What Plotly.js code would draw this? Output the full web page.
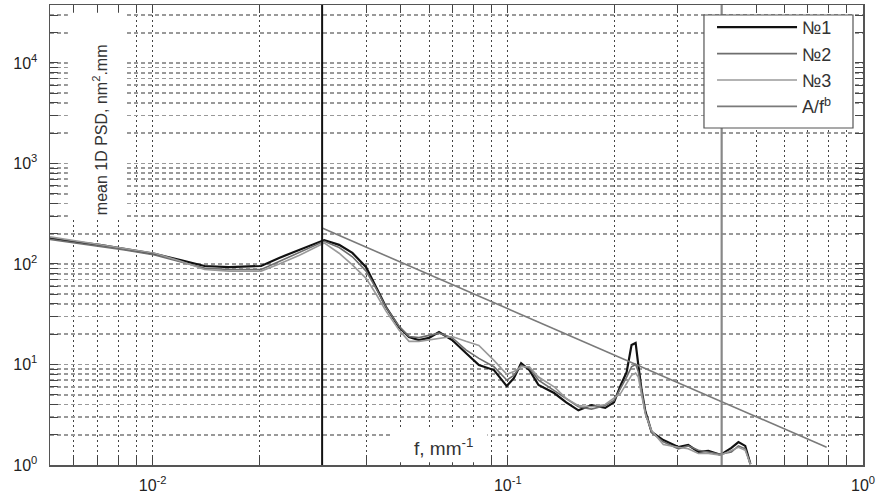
<!DOCTYPE html>
<html>
<head>
<meta charset="utf-8">
<script src="https://cdn.plot.ly/plotly-3.0.1.min.js"></script>
<style>html,body{margin:0;padding:0;background:#fff;}#chart{width:880px;height:496px;}</style>
</head>
<body>
<div id="chart"></div>
<script>
// ---- data ----
const freq = [0.00514, 0.00604, 0.0071, 0.00834, 0.01013, 0.0119, 0.014, 0.0164, 0.0202, 0.0227, 0.0259, 0.0304,
  0.0335, 0.0365, 0.0399, 0.0426, 0.0454, 0.0494, 0.0527, 0.0562, 0.06, 0.064, 0.0697, 0.0762, 0.0829, 0.0914,
  0.0993, 0.104, 0.109, 0.115, 0.122, 0.135, 0.146, 0.158, 0.172, 0.188, 0.199, 0.208, 0.216, 0.223, 0.229,
  0.233, 0.238, 0.244, 0.254, 0.274, 0.302, 0.322, 0.344, 0.367, 0.397, 0.426, 0.446, 0.466, 0.482];
const psd1 = [181, 166, 155, 141, 126, 110, 95.5, 93, 95.5, 115, 138, 173, 155, 129, 93, 59, 37.3, 23.6, 18.8, 17.5,
  18.4, 21, 17.5, 13, 9.9, 8.8, 6.1, 7.3, 10.3, 8.8, 6.25, 5.2, 4.2, 3.5, 3.95, 3.7, 4.2, 6.25, 8.4, 15.6, 16.4,
  9.9, 5.6, 3.4, 2.13, 1.77, 1.51, 1.58, 1.35, 1.38, 1.26, 1.48, 1.69, 1.55, 1.02];
const psd2 = [176, 162, 151, 138, 123, 106, 91, 88, 88, 106, 130, 168, 146, 118, 85, 57, 37, 24, 19, 18.5,
  19.5, 20.5, 18.5, 14, 11.5, 9.5, 7, 7.8, 9.8, 9.2, 7, 5.5, 4.5, 3.8, 3.6, 3.9, 4.4, 5.8, 7.5, 9.5, 10,
  8.5, 5.5, 3.3, 2.1, 1.7, 1.45, 1.55, 1.4, 1.35, 1.28, 1.35, 1.55, 1.45, 1.02];
const psd3 = [186, 170, 158, 144, 128, 108, 88, 85, 85, 100, 122, 162, 128, 98, 72, 50, 34, 22, 17, 17,
  17.5, 18, 19, 17, 15.5, 11, 8, 8.5, 9.5, 9.5, 7.5, 6, 4.6, 3.9, 3.8, 4.0, 4.6, 5.2, 6.5, 7.8, 8.2,
  7.5, 5, 3.2, 2.2, 1.6, 1.5, 1.45, 1.3, 1.3, 1.25, 1.4, 1.5, 1.4, 1.02];
const fitX = [0.03, 0.79];
const fitY = [228, 1.5];
const markerFreqs = [0.03, 0.4];
const seriesNames = ['№1', '№2', '№3', 'A/f<sup>b</sup>'];
const xTickVals = [0.01, 0.1, 1];
const xTickText = ['10<sup>-2</sup>', '10<sup>-1</sup>', '10<sup>0</sup>'];
const yTickVals = [1, 10, 100, 1000, 10000];
const yTickText = ['10<sup>0</sup>', '10<sup>1</sup>', '10<sup>2</sup>', '10<sup>3</sup>', '10<sup>4</sup>'];
const xTitle = 'f, mm<sup>-1</sup>';
const yTitle = 'mean 1D PSD, nm<sup>2</sup>.mm';

// minor grid positions (2..9 in each decade)
function minorVals(d0, d1) {
  const v = [];
  for (let d = d0; d <= d1; d++) for (let k = 2; k <= 9; k++) v.push(k * Math.pow(10, d));
  return v;
}

const traces = [
  {x: freq, y: psd1, name: seriesNames[0], mode: 'lines', line: {color: '#111', width: 2.2}},
  {x: freq, y: psd2, name: seriesNames[1], mode: 'lines', line: {color: '#6e6e6e', width: 1.6}},
  {x: freq, y: psd3, name: seriesNames[2], mode: 'lines', line: {color: '#9a9a9a', width: 1.6}},
  {x: fitX, y: fitY, name: seriesNames[3], mode: 'lines', line: {color: '#7a7a7a', width: 1.6}}
];

const axisFont = {family: 'Liberation Sans, Arial, sans-serif', size: 16, color: '#222'};

const layout = {
  width: 880, height: 496,
  margin: {l: 50, r: 17, t: 5, b: 31},
  paper_bgcolor: '#fff', plot_bgcolor: '#fff',
  font: {family: 'Liberation Sans, Arial, sans-serif', color: '#222'},
  showlegend: true,
  legend: {
    x: 0.8143, y: 0.9913, xanchor: 'left', yanchor: 'top',
    bgcolor: 'rgba(0,0,0,0)', borderwidth: 0,
    font: {size: 18, color: '#333'}, itemwidth: 80
  },
  xaxis: {
    type: 'log', range: [Math.log10(0.00514), 0],
    tickmode: 'array', tickvals: xTickVals, ticktext: xTickText,
    ticks: 'inside', ticklen: 8, tickwidth: 1, tickcolor: '#444',
    showline: true, linecolor: '#555', linewidth: 1.5, mirror: 'allticks',
    showgrid: true, gridcolor: '#444', gridwidth: 1, griddash: '2px,3px',
    minor: {tickmode: 'array', tickvals: minorVals(-3, -1), ticks: 'inside', ticklen: 8, tickcolor: '#444',
            showgrid: true, gridcolor: '#444', gridwidth: 1, griddash: '2px,3px'},
    tickfont: axisFont, ticklabelstandoff: 5, zeroline: false
  },
  yaxis: {
    type: 'log', range: [0, 4.577],
    tickmode: 'array', tickvals: yTickVals, ticktext: yTickText,
    ticks: 'inside', ticklen: 8, tickwidth: 1, tickcolor: '#444',
    showline: true, linecolor: '#555', linewidth: 1.5, mirror: 'allticks',
    showgrid: true, gridcolor: '#999', gridwidth: 1.6, griddash: '4px,3px',
    minor: {tickmode: 'array', tickvals: minorVals(0, 4), ticks: 'inside', ticklen: 8, tickcolor: '#444',
            showgrid: true, gridcolor: '#999', gridwidth: 1.6, griddash: '4px,3px'},
    tickfont: axisFont, ticklabelstandoff: 8, zeroline: false
  },
  shapes: [
    {type: 'line', xref: 'x', yref: 'paper', x0: markerFreqs[0], x1: markerFreqs[0], y0: 0, y1: 1,
     line: {color: '#111', width: 2}},
    {type: 'line', xref: 'x', yref: 'paper', x0: markerFreqs[1], x1: markerFreqs[1], y0: 0, y1: 1,
     line: {color: '#888', width: 2.2}},
    {type: 'rect', xref: 'paper', yref: 'paper', x0: 0.022, x1: 0.0947, y0: 0.539, y1: 0.983,
     fillcolor: '#fff', line: {width: 0}, layer: 'above'},
    {type: 'rect', xref: 'paper', yref: 'paper', x0: 0.4207, x1: 0.538, y0: 0.006, y1: 0.076,
     fillcolor: '#fff', line: {width: 0}, layer: 'above'},
    {type: 'rect', xref: 'paper', yref: 'paper', x0: 0.8044, x1: 0.9877, y0: 0.7326, y1: 0.9783,
     fillcolor: '#fff', line: {color: '#555', width: 1.2}, layer: 'above'}
  ],
  annotations: [
    {text: yTitle, xref: 'paper', yref: 'paper', x: 0.0615, y: 0.73, xanchor: 'center', yanchor: 'middle',
     textangle: -90, showarrow: false, font: {size: 16, color: '#333'}},
    {text: xTitle, xref: 'paper', yref: 'paper', x: 0.4834, y: 0.039, xanchor: 'center', yanchor: 'middle',
     showarrow: false, font: {size: 19, color: '#333'}}
  ]
};

Plotly.newPlot('chart', traces, layout, {staticPlot: true});
</script>
</body>
</html>
